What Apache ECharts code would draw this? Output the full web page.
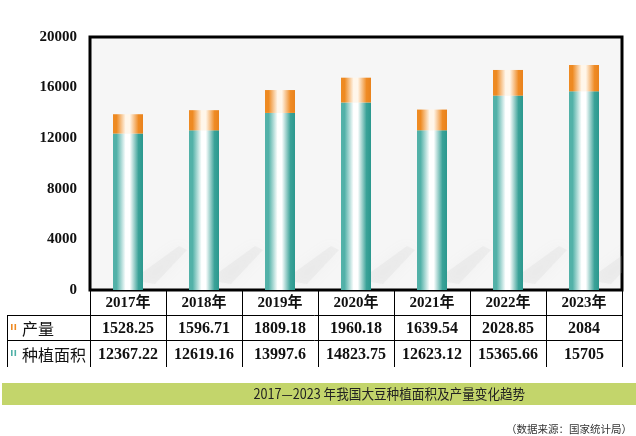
<!DOCTYPE html>
<html>
<head>
<meta charset="utf-8">
<script src="https://cdn.jsdelivr.net/npm/echarts@6/dist/echarts.min.js"></script>
<style>
  html, body { margin: 0; padding: 0; background: #fff; }
  #chart { width: 636px; height: 436px; }
</style>
</head>
<body>
<div id="chart"></div>
<script>
// 2017-2023 大豆种植面积及产量 (万亩 / 万吨)
const years = ['2017年', '2018年', '2019年', '2020年', '2021年', '2022年', '2023年'];
const output = [1528.25, 1596.71, 1809.18, 1960.18, 1639.54, 2028.85, 2084];
const area = [12367.22, 12619.16, 13997.6, 14823.75, 12623.12, 15365.66, 15705];
const rowNames = ['产量', '种植面积'];
const yTicks = [0, 4000, 8000, 12000, 16000, 20000];
const title = '2017\u20142023 年我国大豆种植面积及产量变化趋势';
const source = '（数据来源：国家统计局）';

const serif = '"Liberation Serif", "Noto Sans CJK SC", serif';
const cjk = '"Noto Sans CJK SC", sans-serif';

function hGrad(edgeL, mid, edgeR, dark) {
    return new echarts.graphic.LinearGradient(0, 0, 1, 0, [
        { offset: 0, color: edgeL },
        { offset: 0.12, color: edgeL },
        { offset: 0.42, color: mid },
        { offset: 0.56, color: mid },
        { offset: 0.85, color: edgeR },
        { offset: 1, color: dark }
    ]);
}
const tealFill = hGrad('#52b1a8', '#ffffff', '#3aa298', '#2b988e');
const orangeFill = hGrad('#ee8a22', '#fff6ea', '#ef8b25', '#e9821c');

const myChart = echarts.init(document.getElementById('chart'));

const opt = {
    animation: false,
    backgroundColor: '#fff',
    grid: {
        left: 90, right: 14, top: 37, bottom: 146,
        show: true,
        backgroundColor: '#f6f6f6',
        borderColor: '#000',
        borderWidth: 3
    },
    xAxis: {
        type: 'category',
        data: years,
        axisLine: { show: false },
        axisTick: { show: true, interval: 0, length: 77, lineStyle: { color: '#000', width: 1 } },
        axisLabel: {
            interval: 0,
            margin: 0,
            formatter: function (v, i) {
                return '{h|' + v + '}\n{n|' + output[i] + '}\n{n|' + area[i] + '}';
            },
            rich: {
                h: { fontFamily: serif, fontWeight: 'bold', fontSize: 15, lineHeight: 26, color: '#111', align: 'center' },
                n: { fontFamily: serif, fontWeight: 'bold', fontSize: 16, lineHeight: 26, color: '#111', align: 'center' }
            }
        }
    },
    yAxis: {
        type: 'value',
        min: yTicks[0],
        max: yTicks[yTicks.length - 1],
        interval: yTicks[1] - yTicks[0],
        axisLine: { show: false },
        axisTick: { show: false },
        splitLine: { show: false },
        axisLabel: {
            margin: 13,
            formatter: function (v) { return String(v); },
            fontFamily: serif, fontWeight: 'bold', fontSize: 15, color: '#111'
        }
    },
    series: [
        {
            // soft diagonal cast shadows behind the cylinders
            type: 'custom',
            z: 1,
            silent: true,
            clip: true,
            data: years.map(function (y, i) { return [i, 0]; }),
            renderItem: function (params, api) {
                const p = api.coord([api.value(0), 0]);
                const xr = p[0] + 15;
                const y0 = p[1];
                return {
                    type: 'polygon',
                    shape: {
                        points: [
                            [xr, y0 - 8], [xr, y0 - 18], [xr + 36, y0 - 44],
                            [xr + 44, y0 - 40], [xr + 12, y0 - 6]
                        ]
                    },
                    style: {
                        fill: 'rgba(190,190,190,0.14)',
                        shadowBlur: 14,
                        shadowColor: 'rgba(180,180,180,0.45)'
                    }
                };
            }
        },
        {
            name: '种植面积',
            type: 'bar',
            stack: 'total',
            z: 3,
            barWidth: 30,
            data: area,
            itemStyle: { color: tealFill }
        },
        {
            name: '产量',
            type: 'bar',
            stack: 'total',
            z: 3,
            barWidth: 30,
            data: output,
            itemStyle: { color: orangeFill }
        }
    ],
    graphic: [
        // table rules
        { type: 'line', shape: { x1: 7, y1: 315.5, x2: 622, y2: 315.5 }, style: { stroke: '#000', lineWidth: 1 } },
        { type: 'line', shape: { x1: 7, y1: 340.5, x2: 622, y2: 340.5 }, style: { stroke: '#000', lineWidth: 1 } },
        { type: 'line', shape: { x1: 7.5, y1: 315, x2: 7.5, y2: 367 }, style: { stroke: '#000', lineWidth: 1 } },
        // row legend markers
        { type: 'rect', shape: { x: 11, y: 324, width: 1.6, height: 6 }, style: { fill: '#ee8a22' } },
        { type: 'rect', shape: { x: 14.5, y: 324, width: 1.6, height: 6 }, style: { fill: '#ee8a22' } },
        { type: 'rect', shape: { x: 11, y: 350, width: 1.6, height: 6 }, style: { fill: '#4fb0a7' } },
        { type: 'rect', shape: { x: 14.5, y: 350, width: 1.6, height: 6 }, style: { fill: '#4fb0a7' } },
        { type: 'text', x: 22, y: 329, style: { text: rowNames[0], font: '16px ' + cjk, fill: '#111', verticalAlign: 'middle' } },
        { type: 'text', x: 22, y: 355, style: { text: rowNames[1], font: '16px ' + cjk, fill: '#111', verticalAlign: 'middle' } },
        // caption bar
        { type: 'rect', shape: { x: 2, y: 383, width: 634, height: 22 }, style: { fill: '#c3d56b' } },
        {
            type: 'text', x: 354, y: 394, scaleX: 0.9, originX: 354, originY: 394,
            style: { text: title, font: '14px ' + cjk, fill: '#222', align: 'center', verticalAlign: 'middle' }
        },
        {
            type: 'text', x: 632, y: 429,
            style: { text: source, font: '10.5px ' + cjk, fill: '#333', align: 'right', verticalAlign: 'middle' }
        }
    ]
};

myChart.setOption(opt);
window.addEventListener('resize', function () { myChart.resize(); });
</script>
</body>
</html>
